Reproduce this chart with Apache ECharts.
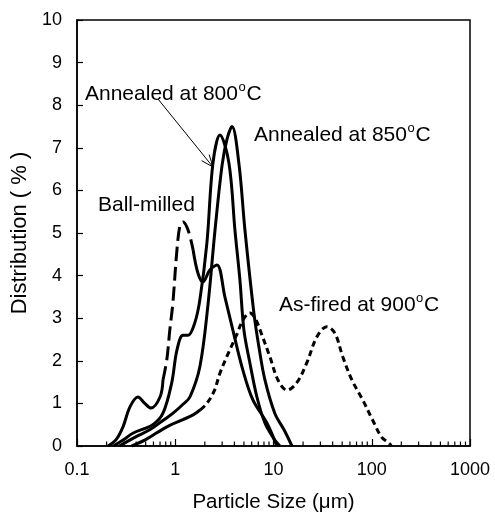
<!DOCTYPE html>
<html><head><meta charset="utf-8">
<script src="https://cdn.jsdelivr.net/npm/echarts@6/dist/echarts.min.js"></script>
<style>html,body{margin:0;padding:0;background:#fff}#c{width:495px;height:519px}</style>
</head><body><div id="c"></div>
<script>
// Particle size (um) and distribution (%)
const ballMilledX = [0.207, 0.25, 0.294, 0.346, 0.417, 0.49, 0.565, 0.7, 0.75, 0.82, 0.88, 0.945, 1.04, 1.12, 1.2, 1.35, 1.52, 1.7, 1.91, 2.25, 2.66, 3.2, 3.86, 4.88, 6.17, 8.57, 10.8];
const ballMilledY = [0, 0.15, 0.45, 0.92, 1.15, 1.0, 0.89, 1.15, 1.55, 2.02, 2.72, 3.35, 4.6, 5.19, 5.26, 5.07, 4.6, 4.06, 3.85, 4.13, 4.25, 3.5, 2.72, 1.78, 1.08, 0.54, 0];
const annealed800X = [0.235, 0.3, 0.37, 0.59, 0.75, 0.92, 1.04, 1.2, 1.35, 1.58, 1.78, 2.1, 2.42, 2.85, 3.52, 4.05, 4.55, 5.0, 5.75, 6.78, 8.18, 10.3, 11.6];
const annealed800Y = [0, 0.15, 0.3, 0.5, 0.77, 1.48, 2.25, 2.6, 2.6, 2.89, 3.43, 4.77, 6.64, 7.3, 6.64, 5.07, 3.9, 2.72, 1.95, 1.15, 0.54, 0.14, 0];
const annealed850X = [0.27, 0.4, 0.55, 0.75, 0.95, 1.2, 1.41, 1.78, 2.15, 2.54, 3.0, 3.36, 3.78, 4.44, 5.12, 6.32, 7.1, 8.18, 10.3, 12.8, 15.4];
const annealed850Y = [0, 0.22, 0.38, 0.6, 0.77, 0.98, 1.15, 1.86, 3.3, 5.07, 6.6, 7.2, 7.5, 6.64, 5.07, 3.12, 2.33, 1.55, 0.77, 0.38, 0];
const asFiredX = [0.36, 0.5, 0.82, 1.2, 1.52, 1.8, 2.1, 2.5, 2.85, 3.5, 4.2, 4.9, 5.75, 6.5, 7.3, 9.2, 11.1, 13.7, 17.2, 21.8, 27.6, 34.9, 42.1, 50.8, 62.8, 81, 102, 126, 150, 158];
const asFiredY = [0, 0.15, 0.45, 0.62, 0.73, 0.85, 1.0, 1.3, 1.71, 2.2, 2.6, 2.96, 3.12, 3.0, 2.72, 2.09, 1.55, 1.31, 1.48, 1.95, 2.56, 2.8, 2.65, 2.09, 1.55, 1.08, 0.61, 0.21, 0.07, 0];
const xTickLabels = ['0.1', '1', '10', '100', '1000'];
const yTickLabels = ['0','1','2','3','4','5','6','7','8','9','10'];
const minorTickX = [0.2,0.3,0.4,0.5,0.6,0.7,0.8,0.9, 2,3,4,5,6,7,8,9, 20,30,40,50,60,70,80,90, 200,300,400,500,600,700,800,900];

const FONT = "'Liberation Sans', Arial, Helvetica, sans-serif";
function pts(xs, ys, a, b) {
  const out = [];
  for (let i = a; i <= (b === undefined ? xs.length - 1 : b); i++) out.push([xs[i], ys[i]]);
  return out;
}
function lineSeries(data, dash) {
  return {
    type: 'line', data: data, smooth: 0.35, showSymbol: false, silent: true,
    lineStyle: { color: '#000', width: 3, type: dash ? dash : 'solid', cap: 'butt' },
    z: 3
  };
}
const chart = echarts.init(document.getElementById('c'), null, { renderer: 'canvas' });

// arrow geometry
const ax1 = 158, ay1 = 99, ax2 = 213, ay2 = 167;
const L = Math.hypot(ax2 - ax1, ay2 - ay1);
const ux = (ax1 - ax2) / L, uy = (ay1 - ay2) / L;
function barb(th) {
  const c = Math.cos(th), s = Math.sin(th);
  return [ax2 + 13 * (ux * c - uy * s), ay2 + 13 * (ux * s + uy * c)];
}
const b1 = barb(0.38), b2 = barb(-0.38);

const LS = 21;
const mctx = document.createElement('canvas').getContext('2d');
function txt(text, x, y, size) {
  return { type: 'text', x: x, y: y, z: 10,
    style: { text: text, fill: '#000', fontSize: size, fontFamily: FONT, verticalAlign: 'middle' } };
}
// label with superscript "o" + "C"
function label(main, x, y, sup) {
  mctx.font = LS + 'px ' + FONT;
  const w = mctx.measureText(main).width;
  const out = [txt(main, x, y, LS)];
  if (sup) {
    out.push(txt('o', x + w + 0.5, y - 7, 13));
    out.push(txt('C', x + w + 8.5, y, LS));
  }
  return out;
}

chart.setOption({
  animation: false,
  backgroundColor: '#fff',
  grid: { left: 77, right: 25, top: 20, bottom: 73, show: true, borderColor: '#000', borderWidth: 1.5, backgroundColor: 'transparent' },
  xAxis: {
    type: 'log', logBase: 10, min: 0.1, max: 1000,
    name: 'Particle Size (\u03bcm)', nameLocation: 'middle', nameGap: 46,
    nameTextStyle: { fontSize: 20.5, fontFamily: FONT, color: '#000' },
    axisLine: { lineStyle: { color: '#000', width: 1.5 } },
    axisTick: { inside: true, length: 7, lineStyle: { color: '#000', width: 1.2 } },
    axisLabel: { color: '#000', fontSize: 18, fontFamily: FONT, margin: 15,
      formatter: function (v) { const i = Math.round(Math.log10(v)) + 1; return xTickLabels[i] !== undefined ? xTickLabels[i] : ''; } },
    splitLine: { show: false }
  },
  yAxis: {
    type: 'value', min: 0, max: 10, interval: 1,
    name: 'Distribution ( % )', nameLocation: 'middle', nameGap: 33, nameRotate: 90,
    nameTextStyle: { fontSize: 22, fontFamily: FONT, color: '#000' },
    axisLine: { show: true, lineStyle: { color: '#000', width: 1.5 } },
    axisTick: { show: true, inside: true, length: 6, lineStyle: { color: '#000', width: 1.2 } },
    axisLabel: { color: '#000', fontSize: 18, fontFamily: FONT, margin: 15,
      formatter: function (v) { return yTickLabels[Math.round(v)]; } },
    splitLine: { show: false }
  },
  series: [
    lineSeries(pts(ballMilledX, ballMilledY, 0, 8)),
    lineSeries(pts(ballMilledX, ballMilledY, 8, 16), [14, 6]),
    lineSeries(pts(ballMilledX, ballMilledY, 16)),
    lineSeries(pts(annealed800X, annealed800Y, 0)),
    lineSeries(pts(annealed850X, annealed850Y, 0)),
    lineSeries(pts(asFiredX, asFiredY, 0, 5)),
    lineSeries(pts(asFiredX, asFiredY, 5), [6, 4]),
    {
      type: 'custom', silent: true, clip: false, z: 4,
      data: minorTickX.map(function (v) { return [v, 0]; }),
      renderItem: function (params, api) {
        const p = api.coord([api.value(0), api.value(1)]);
        return { type: 'line', shape: { x1: p[0], y1: p[1], x2: p[0], y2: p[1] - 4.5 }, style: { stroke: '#000', lineWidth: 1.2 } };
      }
    }
  ],
  graphic: [].concat(
    label('Annealed at 800', 85, 94, true),
    label('Annealed at 850', 254, 135, true),
    label('Ball-milled', 98, 205, false),
    label('As-fired at 900', 279, 305, true),
    [
      { type: 'line', z: 10, shape: { x1: ax1, y1: ay1, x2: ax2, y2: ay2 }, style: { stroke: '#000', lineWidth: 1 } },
      { type: 'polyline', z: 10, shape: { points: [b1, [ax2, ay2], b2] }, style: { stroke: '#000', lineWidth: 1, fill: null } }
    ]
  )
});
</script>
</body></html>
